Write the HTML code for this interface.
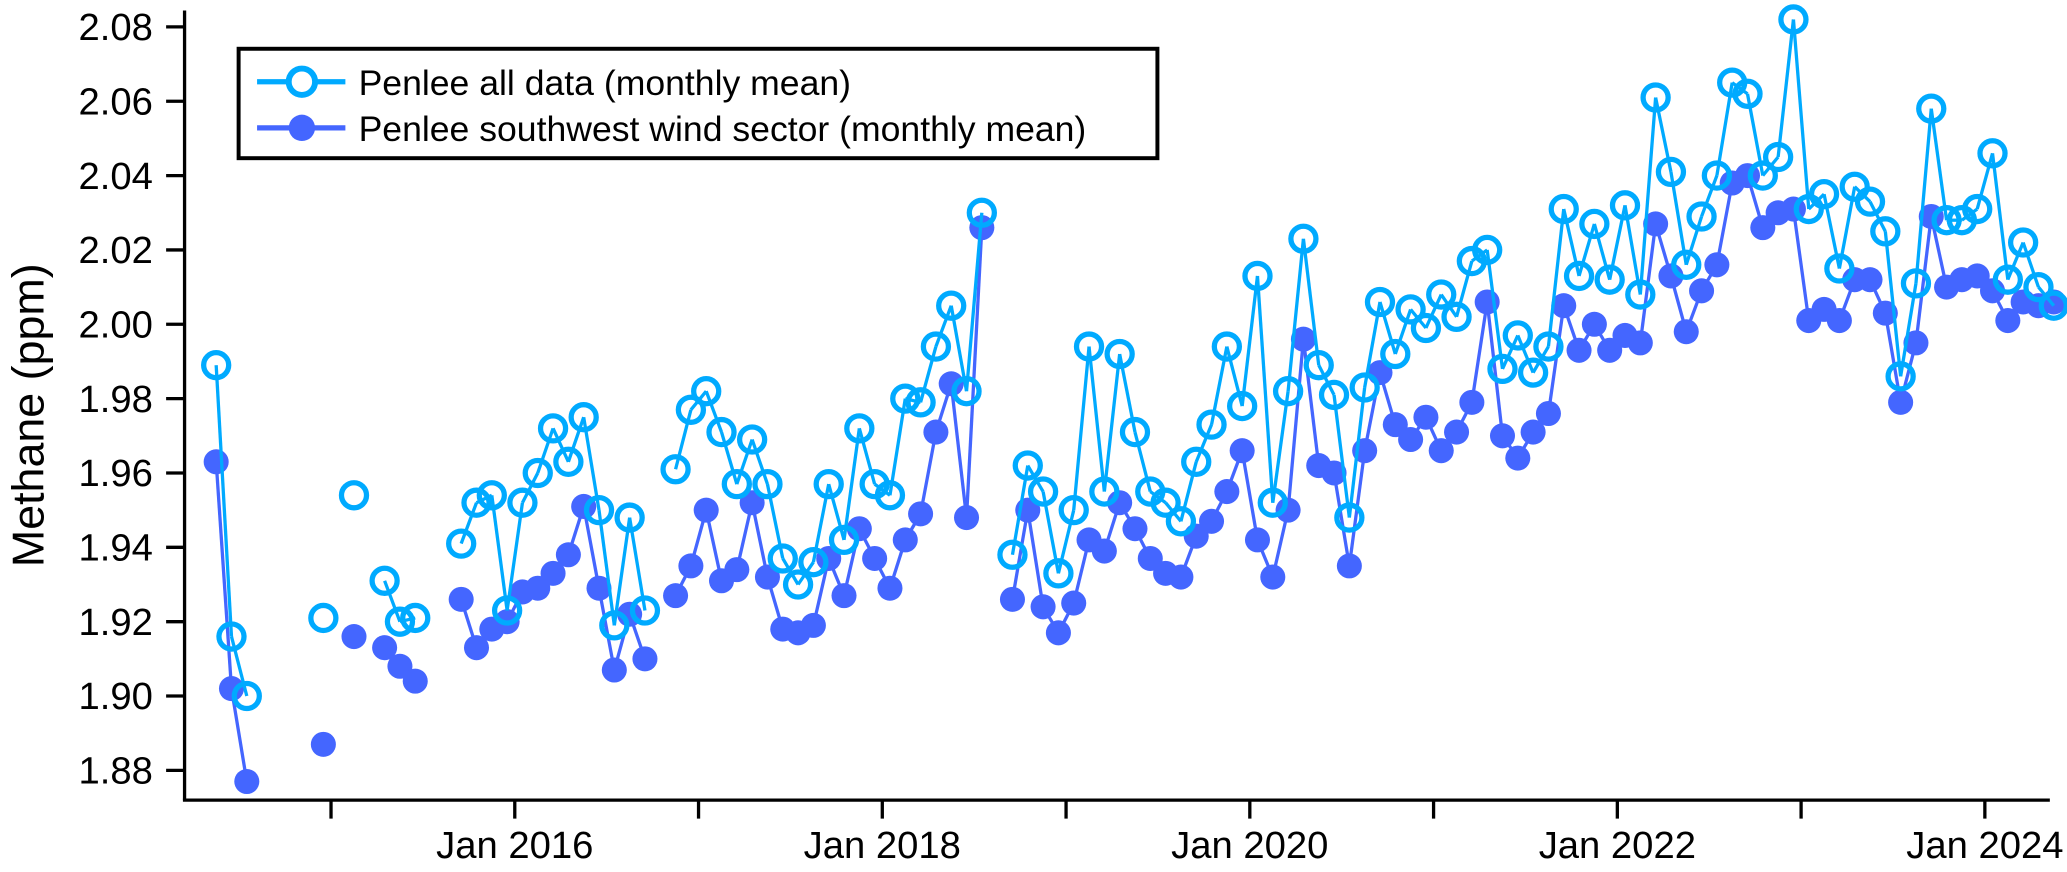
<!DOCTYPE html>
<html><head><meta charset="utf-8"><style>
html,body{margin:0;padding:0;background:#fff;}
svg{display:block;font-family:"Liberation Sans",Arial,sans-serif;}
</style></head><body>
<svg id="chart" width="2067" height="872" viewBox="0 0 1568 661.5">
<g id="axes"></g>
<g id="plot"></g>
<text x="33" y="315" font-size="34" text-anchor="middle" transform="rotate(-90 33 315)">Methane (ppm)</text>
<g>
<rect x="181" y="37" width="697" height="83" fill="#fff" stroke="#000" stroke-width="3"/>
<g>
<line x1="195" y1="62" x2="262" y2="62" stroke="#00aaff" stroke-width="4"/>
<circle cx="229" cy="62" r="10" fill="#fff" stroke="#00aaff" stroke-width="4.5"/>
<text x="272" y="72" font-size="27">Penlee all data (monthly mean)</text>
</g>
<g>
<line x1="195" y1="97" x2="262" y2="97" stroke="#4466ff" stroke-width="4"/>
<circle cx="229" cy="97" r="10" fill="#4466ff"/>
<text x="272" y="107" font-size="27">Penlee southwest wind sector (monthly mean)</text>
</g>
</g>
</svg>
<script>
// month index: 0 = Jan 2016
const months = [-20,-19,-18,-13,-11,-9,-8,-7,-4,-3,-2,-1,0,1,2,3,4,5,6,7,8,10,11,12,13,14,15,16,17,18,19,20,21,22,23,24,25,26,27,28,29,30,32,33,34,35,36,37,38,39,40,41,42,43,44,45,46,47,48,49,50,51,52,53,54,55,56,57,58,59,60,61,62,63,64,65,66,67,68,69,70,71,72,73,74,75,76,77,78,79,80,81,82,83,84,85,86,87,88,89,90,91,92,93,94,95,96,97,98,99,100];
const allData = [1.989,1.916,1.900,1.921,1.954,1.931,1.920,1.921,1.941,1.952,1.954,1.923,1.952,1.960,1.972,1.963,1.975,1.950,1.919,1.948,1.923,1.961,1.977,1.982,1.971,1.957,1.969,1.957,1.937,1.930,1.936,1.957,1.942,1.972,1.957,1.954,1.980,1.979,1.994,2.005,1.982,2.030,1.938,1.962,1.955,1.933,1.950,1.994,1.955,1.992,1.971,1.955,1.952,1.947,1.963,1.973,1.994,1.978,2.013,1.952,1.982,2.023,1.989,1.981,1.948,1.983,2.006,1.992,2.004,1.999,2.008,2.002,2.017,2.020,1.988,1.997,1.987,1.994,2.031,2.013,2.027,2.012,2.032,2.008,2.061,2.041,2.016,2.029,2.040,2.065,2.062,2.040,2.045,2.082,2.031,2.035,2.015,2.037,2.033,2.025,1.986,2.011,2.058,2.028,2.028,2.031,2.046,2.012,2.022,2.010,2.005];
const swData = [1.963,1.902,1.877,1.887,1.916,1.913,1.908,1.904,1.926,1.913,1.918,1.920,1.928,1.929,1.933,1.938,1.951,1.929,1.907,1.922,1.910,1.927,1.935,1.950,1.931,1.934,1.952,1.932,1.918,1.917,1.919,1.937,1.927,1.945,1.937,1.929,1.942,1.949,1.971,1.984,1.948,2.026,1.926,1.950,1.924,1.917,1.925,1.942,1.939,1.952,1.945,1.937,1.933,1.932,1.943,1.947,1.955,1.966,1.942,1.932,1.950,1.996,1.962,1.960,1.935,1.966,1.987,1.973,1.969,1.975,1.966,1.971,1.979,2.006,1.970,1.964,1.971,1.976,2.005,1.993,2.000,1.993,1.997,1.995,2.027,2.013,1.998,2.009,2.016,2.038,2.040,2.026,2.030,2.031,2.001,2.004,2.001,2.012,2.012,2.003,1.979,1.995,2.029,2.010,2.012,2.013,2.009,2.001,2.006,2.005,2.006];
const yTicks = [1.88,1.90,1.92,1.94,1.96,1.98,2.00,2.02,2.04,2.06,2.08];
const xTickYears = [2015,2016,2017,2018,2019,2020,2021,2022,2023,2024];
const xLabelYears = [2016,2018,2020,2022,2024];

const NS="http://www.w3.org/2000/svg";
const X0=390.5, PX_YEAR=139.4, AXIS_LEFT=140, AXIS_BOTTOM=607, AXIS_RIGHT=1555;
function xYear(yr){return X0+(yr-2016)*PX_YEAR;}
function xMonth(m){return X0+(m+0.5)*PX_YEAR/12;}
function yVal(v){return 246-(v-2.00)*2820;}
function mk(tag,attrs,parent){const e=document.createElementNS(NS,tag);for(const k in attrs)e.setAttribute(k,attrs[k]);parent.appendChild(e);return e;}
const axes=document.getElementById('axes'), plot=document.getElementById('plot');

let a=mk('line',{x1:AXIS_LEFT,y1:8,x2:AXIS_LEFT,y2:AXIS_BOTTOM,stroke:'#000','stroke-width':2.5},axes);


a=mk('line',{x1:AXIS_LEFT-1.25,y1:AXIS_BOTTOM,x2:AXIS_RIGHT,y2:AXIS_BOTTOM,stroke:'#000','stroke-width':2.5},axes);



yTicks.forEach(v=>{
  const y=yVal(v);
  const t=mk('line',{x1:AXIS_LEFT-14,y1:y,x2:AXIS_LEFT,y2:y,stroke:'#000','stroke-width':2.5},axes);
  
  
  const l=mk('text',{x:116,y:y+10,'font-size':29,'text-anchor':'end'},axes);
  l.textContent=v.toFixed(2);
  
  
});
xTickYears.forEach(yr=>{
  const x=xYear(yr);
  const t=mk('line',{x1:x,y1:AXIS_BOTTOM,x2:x,y2:AXIS_BOTTOM+14,stroke:'#000','stroke-width':2.5},axes);
  
  
});
xLabelYears.forEach(yr=>{
  const l=mk('text',{x:xYear(yr),y:651,'font-size':29,'text-anchor':'middle'},axes);
  l.textContent='Jan '+yr;
  
  
});

function drawSeries(vals,color,filled,name){
  const g=mk('g',{},plot);
  
  
  for(let i=1;i<months.length;i++){
    if(months[i]-months[i-1]!==1)continue;
    const ln=mk('line',{x1:xMonth(months[i-1]),y1:yVal(vals[i-1]),x2:xMonth(months[i]),y2:yVal(vals[i]),stroke:color,'stroke-width':2.5},g);
    
    
  }
  for(let i=0;i<months.length;i++){
    const c=filled?mk('circle',{cx:xMonth(months[i]),cy:yVal(vals[i]),r:9.5,fill:color},g)
                  :mk('circle',{cx:xMonth(months[i]),cy:yVal(vals[i]),r:9.5,fill:'none',stroke:color,'stroke-width':4},g);
    
    
  }
}
drawSeries(swData,'#4466ff',true,'southwest');
drawSeries(allData,'#00aaff',false,'all-data');
</script>
</body></html>
